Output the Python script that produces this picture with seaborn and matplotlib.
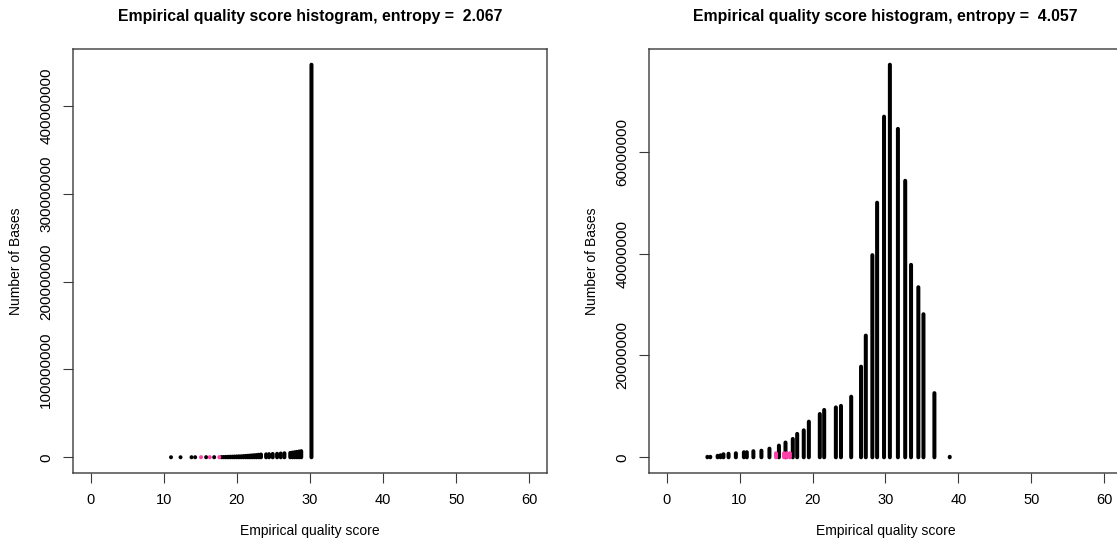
import numpy as np
import pandas as pd
import matplotlib
matplotlib.use("Agg")
import matplotlib.pyplot as plt
import seaborn as sns

# ---- data: empirical quality score -> number of bases ----
left_title = "Empirical quality score histogram, entropy =  2.067"
left_q = [11.0, 12.3, 13.8, 14.3, 15.8, 16.9, 17.9, 18.2, 18.5, 18.8, 19.1,
          19.4, 19.7, 20.0, 20.3, 20.6, 20.9, 21.2, 21.5, 21.8, 22.1, 22.4,
          22.7, 23.0, 23.3, 24.0, 24.4, 24.9, 25.5, 26.0, 26.5, 27.3, 27.6,
          27.9, 28.2, 28.5, 28.8, 30.2]
left_n = [1.0e5, 1.0e5, 1.5e5, 1.5e5, 2.0e5, 2.0e5, 3.0e5, 4.0e5, 5.0e5,
          6.0e5, 7.0e5, 8.0e5, 9.0e5, 1.0e6, 1.1e6, 1.2e6, 1.4e6, 1.6e6,
          1.8e6, 2.0e6, 2.2e6, 2.4e6, 2.6e6, 2.9e6, 3.2e6, 3.4e6, 3.6e6,
          3.8e6, 4.0e6, 4.3e6, 4.6e6, 5.0e6, 5.4e6, 5.8e6, 6.2e6, 6.6e6,
          7.0e6, 4.47e8]
left_pink_q = [15.1, 16.3, 17.6]
left_pink_n = [2.0e5, 2.0e5, 2.5e5]
left_yticks = [0, 100000000, 200000000, 300000000, 400000000]

right_title = "Empirical quality score histogram, entropy =  4.057"
right_q = [5.6, 6.0, 7.0, 7.4, 7.8, 8.5, 9.5, 10.6, 11.0, 11.9, 13.0, 14.1,
           15.4, 16.3, 17.3, 17.9, 18.8, 19.5, 21.0, 21.6, 23.2, 23.9, 25.3,
           26.65, 27.3, 28.2, 28.85, 29.8, 30.6, 31.7, 32.7, 33.5, 34.5, 35.2,
           36.7, 38.8]
right_n = [1.0e5, 1.0e5, 3.0e5, 4.0e5, 6.0e5, 7.0e5, 8.0e5, 1.0e6, 1.0e6,
           1.2e6, 1.3e6, 1.7e6, 2.3e6, 2.9e6, 3.6e6, 4.6e6, 5.3e6, 7.0e6,
           8.5e6, 9.3e6, 9.8e6, 1.01e7, 1.19e7, 1.78e7, 2.39e7, 3.97e7,
           5.00e7, 6.69e7, 7.71e7, 6.45e7, 5.43e7, 3.78e7, 3.34e7, 2.81e7,
           1.26e7, 1.0e5]
right_pink_q = [15.0, 16.1, 16.5, 16.9]
right_pink_n = [8.0e5, 8.0e5, 8.0e5, 8.0e5]
right_yticks = [0, 20000000, 40000000, 60000000]

x_ticks = [0, 10, 20, 30, 40, 50, 60]
x_label = "Empirical quality score"
y_label = "Number of Bases"

INK = "black"
PINK = "#ff3fa8"
FRAME = "#3a3a3a"

sns.set_theme(style="white")
plt.rcParams["font.family"] = ["Liberation Sans", "DejaVu Sans"]
# keep very short stems visible as round dots
plt.rcParams["path.snap"] = False

fig = plt.figure(figsize=(11.17, 5.46), dpi=100)
W, H = 1117, 546


def stems(q, n):
    """Long-form table: each stem is a unit going from 0 up to its count."""
    rows = []
    for i, (x, y) in enumerate(zip(q, n)):
        rows.append((x, 0.0, i))
        rows.append((x, y, i))
    return pd.DataFrame(rows, columns=["q", "n", "stem"])


def panel(rect, title, q, n, pq, pn, yticks):
    ax = fig.add_axes(rect)
    sns.lineplot(data=stems(q, n), x="q", y="n", units="stem",
                 estimator=None, sort=False, color=INK, lw=2.9,
                 solid_capstyle="round", ax=ax, legend=False)
    sns.lineplot(data=stems(pq, pn), x="q", y="n", units="stem",
                 estimator=None, sort=False, color=PINK, lw=2.9,
                 solid_capstyle="round", ax=ax, legend=False)
    hi = max(n)
    ax.set_xlim(-0.04 * 60, 60 * 1.04)
    ax.set_ylim(-0.04 * hi, hi * 1.04)
    ax.set_xticks(x_ticks)
    ax.set_xticklabels([str(t) for t in x_ticks], fontsize=10.5)
    ax.set_yticks(yticks)
    ax.set_yticklabels([str(t) for t in yticks], fontsize=11,
                       rotation=90, va="center")
    ax.tick_params(direction="out", length=7.2, width=0.8, color=FRAME,
                   pad=7, labelcolor="black", bottom=True, left=True)
    for s in ax.spines.values():
        s.set_visible(True)
        s.set_color(FRAME)
        s.set_linewidth(1.0)
    ax.set_xlabel(x_label, fontsize=10, color="black")
    ax.set_ylabel(y_label, fontsize=10, color="black")
    h_px = rect[3] * H
    w_px = rect[2] * W
    ax.xaxis.set_label_coords(0.5, -(524 - 473) / h_px)
    ax.yaxis.set_label_coords(-50 / w_px, 0.5)
    ax.set_title(title, fontsize=11.4, fontweight="bold", color="black",
                 y=1 + (49 - 21) / h_px, pad=0)
    ax.grid(False)
    return ax


bottom = (H - 473) / H
height = (473 - 49) / H
panel([73 / W, bottom, 474 / W, height], left_title,
      left_q, left_n, left_pink_q, left_pink_n, left_yticks)
panel([649 / W, bottom, 473 / W, height], right_title,
      right_q, right_n, right_pink_q, right_pink_n, right_yticks)

fig.savefig("out.png", dpi=100, facecolor="white")
